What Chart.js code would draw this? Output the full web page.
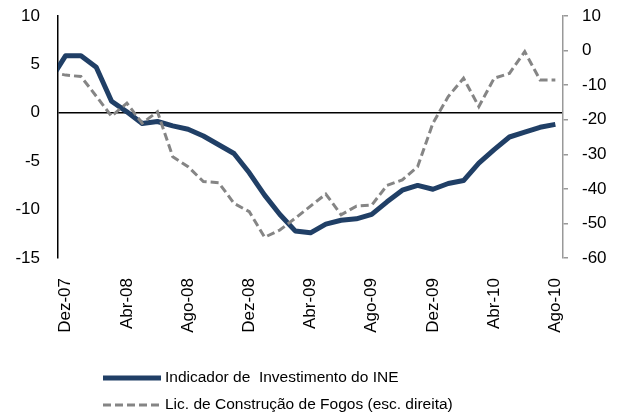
<!DOCTYPE html>
<html>
<head>
<meta charset="utf-8">
<script src="https://cdn.jsdelivr.net/npm/chart.js@4.4.0/dist/chart.umd.min.js"></script>
<style>
  html, body { margin: 0; padding: 0; background: #fff; }
  #wrap { width: 621px; height: 419px; }
</style>
</head>
<body>
<div id="wrap"><canvas id="chart" width="621" height="419"></canvas></div>
<script>
// meses (o primeiro, Nov-07, fica cortado pelo eixo)
const months = ['Nov-07', 'Dez-07', 'Jan-08', 'Fev-08', 'Mar-08', 'Abr-08', 'Mai-08', 'Jun-08', 'Jul-08',
  'Ago-08', 'Set-08', 'Out-08', 'Nov-08', 'Dez-08', 'Jan-09', 'Fev-09', 'Mar-09', 'Abr-09', 'Mai-09',
  'Jun-09', 'Jul-09', 'Ago-09', 'Set-09', 'Out-09', 'Nov-09', 'Dez-09', 'Jan-10', 'Fev-10', 'Mar-10',
  'Abr-10', 'Mai-10', 'Jun-10', 'Jul-10', 'Ago-10']

const investimentoINE = [3.4, 5.9, 5.9, 4.7, 1.2, 0.1, -1.1, -0.9, -1.35, -1.7, -2.4, -3.3, -4.2, -6.2,
  -8.5, -10.5, -12.2, -12.4, -11.5, -11.1, -10.95, -10.5, -9.2, -8.0, -7.5, -7.9, -7.3, -7.0, -5.2,
  -3.8, -2.5, -2.0, -1.5, -1.2]

const licFogos = [-6.2, -7.1, -7.5, -13.2, -19, -15.2, -21, -17.7, -30.7, -33.6, -37.9, -38.2, -44.2,
  -46.6, -54, -51.9, -48.5, -45, -41.5, -47.5, -45, -44.7, -39, -37.4, -33.6, -21, -13.3, -8, -16.2,
  -8, -6.6, -0.3, -8.5, -8.5]

const seriesNames = ['Indicador de  Investimento do INE', 'Lic. de Construção de Fogos (esc. direita)']
const labelTicks = [1, 5, 9, 13, 17, 21, 25, 29, 33] // Dez-07 ... Ago-10, de 4 em 4 meses
const leftTicks = [10, 5, 0, -5, -10, -15]
const rightTicks = [10, 0, -10, -20, -30, -40, -50, -60]

const FONT = 'Liberation Sans, Arial, sans-serif'

const toPoints = arr => arr.map((v, i) => ({ x: i, y: v }))

// largura fixa dos eixos verticais, sem padding extra em cima/baixo
const fixY = s => { s.width = 58; s.paddingTop = 0; s.paddingBottom = 0 }

// legenda desenhada à mão (duas linhas alinhadas à esquerda)
const legendPlugin = {
  id: 'legendaManual',
  afterDraw(chart) {
    const ctx = chart.ctx
    const rows = [378, 405]
    chart.data.datasets.forEach((ds, i) => {
      const y = rows[i]
      ctx.save()
      ctx.strokeStyle = ds.borderColor
      ctx.lineWidth = ds.borderWidth
      ctx.setLineDash(ds.borderDash || [])
      ctx.beginPath()
      ctx.moveTo(103, y)
      ctx.lineTo(161, y)
      ctx.stroke()
      ctx.setLineDash([])
      ctx.fillStyle = '#000'
      ctx.font = '15.5px ' + FONT
      ctx.textBaseline = 'middle'
      ctx.fillText(ds.label, 165, y)
      ctx.restore()
    })
  }
}

const chart = new Chart(document.getElementById('chart'), {
  type: 'line',
  data: {
    datasets: [{
      label: seriesNames[0],
      data: toPoints(investimentoINE),
      yAxisID: 'y',
      borderColor: '#203F66',
      borderWidth: 5,
      borderJoinStyle: 'round',
      pointRadius: 0,
      tension: 0,
      clip: 0,
      order: 1
    }, {
      label: seriesNames[1],
      data: toPoints(licFogos),
      yAxisID: 'y1',
      borderColor: '#858585',
      borderWidth: 3,
      borderDash: [8, 4],
      pointRadius: 0,
      tension: 0,
      clip: 0,
      order: 0
    }]
  },
  options: {
    responsive: false,
    animation: false,
    devicePixelRatio: 1,
    layout: { padding: { top: 16, left: 0, right: 0, bottom: 0 } },
    plugins: {
      legend: { display: false },
      tooltip: { enabled: false }
    },
    scales: {
      x: {
        type: 'linear',
        min: 0.5,
        max: 33.5,
        grid: { display: false, drawTicks: false },
        border: { display: false },
        afterBuildTicks: s => { s.ticks = labelTicks.map(v => ({ value: v })) },
        afterFit: s => { s.height = 161 },
        ticks: {
          autoSkip: false,
          minRotation: 90,
          maxRotation: 90,
          padding: 20,
          color: '#000',
          font: { family: FONT, size: 17 },
          callback: v => months[v]
        }
      },
      y: {
        position: 'left',
        min: -15,
        max: 10,
        afterBuildTicks: s => { s.ticks = leftTicks.map(v => ({ value: v })) },
        afterFit: fixY,
        border: { display: true, color: '#000', width: 1.5 },
        grid: {
          drawTicks: false,
          color: c => c.tick && c.tick.value === 0 ? '#000' : 'rgba(0,0,0,0)',
          lineWidth: 1.5
        },
        ticks: {
          padding: 18,
          color: '#000',
          font: { family: FONT, size: 17 }
        }
      },
      y1: {
        position: 'right',
        min: -60,
        max: 10,
        afterBuildTicks: s => { s.ticks = rightTicks.map(v => ({ value: v })) },
        afterFit: fixY,
        border: { display: true, color: '#999', width: 1.5 },
        grid: {
          drawOnChartArea: false,
          drawTicks: true,
          tickLength: 5,
          color: '#999',
          lineWidth: 1.5
        },
        ticks: {
          padding: 14,
          color: '#000',
          font: { family: FONT, size: 17 }
        }
      }
    }
  },
  plugins: [legendPlugin]
})
</script>
</body>
</html>
